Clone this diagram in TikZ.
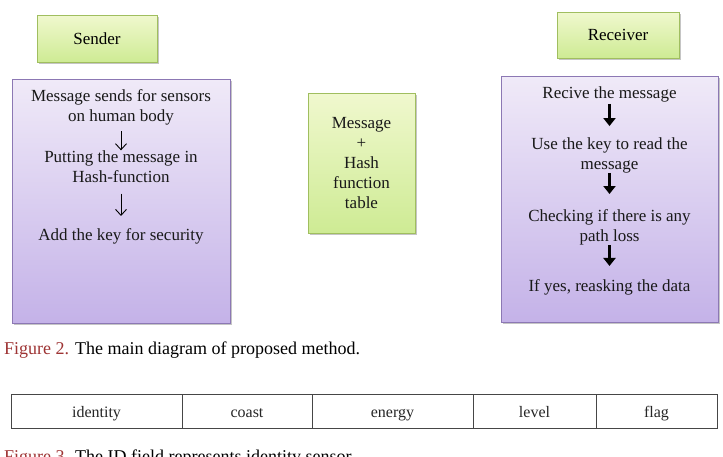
\documentclass[tikz,border=0pt]{standalone}
\usepackage{fontspec}
\setmainfont{Liberation Serif}
\usetikzlibrary{shadows,arrows.meta}
\definecolor{gtop}{RGB}{240,248,206}
\definecolor{gbot}{RGB}{206,235,148}
\definecolor{gline}{RGB}{160,190,95}
\definecolor{ptop}{RGB}{240,234,248}
\definecolor{pbot}{RGB}{196,178,232}
\definecolor{pline}{RGB}{140,120,180}
\definecolor{figred}{RGB}{158,52,52}
\definecolor{tline}{RGB}{70,70,70}
\tikzset{
  greenbox/.style={draw=gline, line width=0.8pt, top color=gtop, bottom color=gbot,
    drop shadow={shadow xshift=1.5pt, shadow yshift=-2pt, fill=black!45}},
  purplebox/.style={draw=pline, line width=1pt, top color=ptop, bottom color=pbot,
    drop shadow={shadow xshift=1.5pt, shadow yshift=-2pt, fill=black!45}},
  txt/.style={align=center, inner sep=0pt, font=\fontsize{17}{20}\selectfont, text=black!90},
  thinarr/.style={-{Straight Barb[length=6pt,width=11pt]}, line width=0.9pt},
  boldarr/.style={-{Triangle[length=8pt,width=12pt]}, line width=2.8pt},
  cell/.style={draw=tline, line width=0.9pt, minimum height=34pt, inner sep=0pt,
    font=\fontsize{16}{18}\selectfont, text=black!85, text height=12pt, text depth=0pt},
}
\begin{document}
\begin{tikzpicture}[x=1pt,y=-1pt]
\useasboundingbox[fill=white] (0,0) rectangle (723,456);

% Sender side
\node[greenbox, minimum width=120pt, minimum height=47pt, font=\fontsize{17}{20}\selectfont] (sender) at (97,38.5) {Sender};
\node[purplebox, minimum width=218pt, minimum height=244pt] (sbox) at (121,201) {};
\node[txt] (s1) at (121,107) {Message sends for sensors\\on human body};
\node[txt] (s2) at (121,166.5) {Putting the message in\\Hash-function};
\node[txt] (s3) at (121,236) {Add the key for security};
\draw[thinarr, shorten <=6pt] (s1.south) -- (s2.north);
\draw[thinarr, shorten <=11pt, shorten >=12pt] (s2.south) -- (s3.north);

% Middle
\node[greenbox, minimum width=107pt, minimum height=140pt] (mid) at (361.5,163) {};
\node[txt, font=\fontsize{17}{20}\selectfont] (midtxt) at (361.5,163) {Message\\+\\Hash\\function\\table};

% Receiver side
\node[greenbox, minimum width=122pt, minimum height=46pt, font=\fontsize{17}{20}\selectfont] (receiver) at (618,35) {Receiver};
\node[purplebox, minimum width=217pt, minimum height=246pt] (rbox) at (609.5,199) {};
\node[txt] (r1) at (609.5,94) {Recive the message};
\node[txt] (r2) at (609.5,155) {Use the key to read the\\message};
\node[txt] (r3) at (609.5,227) {Checking if there is any\\path loss};
\node[txt] (r4) at (609.5,287) {If yes, reasking the data};
\draw[boldarr, shorten <=2pt, shorten >=11pt] (r1.south) -- (r2.north);
\draw[boldarr, shorten <=0pt, shorten >=15pt] (r2.south) -- (r3.north);
\draw[boldarr, shorten <=0pt, shorten >=13pt] (r3.south) -- (r4.north);

% Caption 2
\node[anchor=west, inner sep=0pt, font=\fontsize{18}{20}\selectfont] (cap2) at (4,350)
  {\textcolor{figred}{Figure 2.} The main diagram of proposed method.};

% Table
\node[cell, minimum width=171pt] (c1) at (96.5,411) {identity};
\node[cell, minimum width=130pt] (c2) at (247,411) {coast};
\node[cell, minimum width=161pt] (c3) at (392.5,411) {energy};
\node[cell, minimum width=123pt] (c4) at (534.5,411) {level};
\node[cell, minimum width=121pt] (c5) at (656.5,411) {flag};

% Caption 3 (cut off at bottom edge, as in the reference)
\node[anchor=west, inner sep=0pt, font=\fontsize{18}{20}\selectfont] (cap3) at (4,458)
  {\textcolor{figred}{Figure 3.} The ID field represents identity sensor.};
\end{tikzpicture}
\end{document}
